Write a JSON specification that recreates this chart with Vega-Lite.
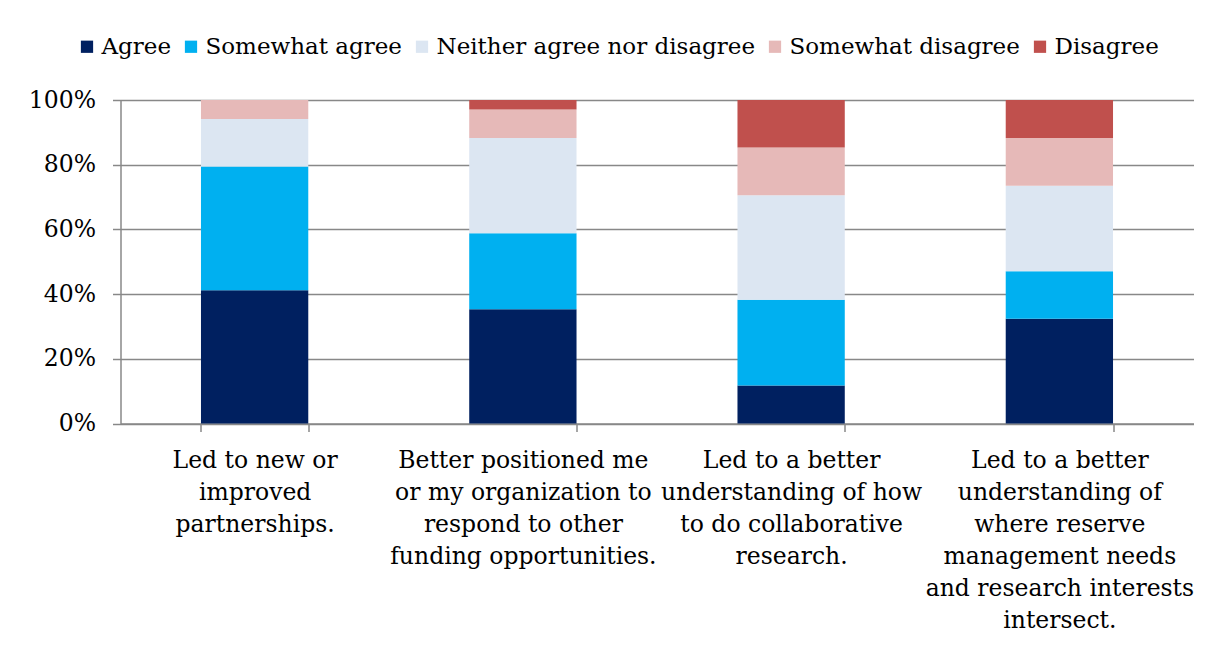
{
  "$schema": "https://vega.github.io/schema/vega-lite/v6.json",
  "autosize": {"type": "none"},
  "width": 1073,
  "height": 323.5,
  "padding": {"left": 120.5, "top": 100, "right": 21.5, "bottom": 227.5},
  "background": "white",
  "config": {
    "font": "DejaVu Serif",
    "view": {"stroke": null},
    "axis": {"labelFont": "DejaVu Serif", "labelFontSize": 23.5, "labelColor": "#000000"}
  },
  "data": {
    "values": [
      {"q": "Led to new or|improved|partnerships.", "r": "Agree", "n": 14},
      {"q": "Led to new or|improved|partnerships.", "r": "Somewhat agree", "n": 13},
      {"q": "Led to new or|improved|partnerships.", "r": "Neither agree nor disagree", "n": 5},
      {"q": "Led to new or|improved|partnerships.", "r": "Somewhat disagree", "n": 2},
      {"q": "Led to new or|improved|partnerships.", "r": "Disagree", "n": 0},
      {"q": "Better positioned me|or my organization to|respond to other|funding opportunities.", "r": "Agree", "n": 12},
      {"q": "Better positioned me|or my organization to|respond to other|funding opportunities.", "r": "Somewhat agree", "n": 8},
      {"q": "Better positioned me|or my organization to|respond to other|funding opportunities.", "r": "Neither agree nor disagree", "n": 10},
      {"q": "Better positioned me|or my organization to|respond to other|funding opportunities.", "r": "Somewhat disagree", "n": 3},
      {"q": "Better positioned me|or my organization to|respond to other|funding opportunities.", "r": "Disagree", "n": 1},
      {"q": "Led to a better|understanding of how|to do collaborative|research.", "r": "Agree", "n": 4},
      {"q": "Led to a better|understanding of how|to do collaborative|research.", "r": "Somewhat agree", "n": 9},
      {"q": "Led to a better|understanding of how|to do collaborative|research.", "r": "Neither agree nor disagree", "n": 11},
      {"q": "Led to a better|understanding of how|to do collaborative|research.", "r": "Somewhat disagree", "n": 5},
      {"q": "Led to a better|understanding of how|to do collaborative|research.", "r": "Disagree", "n": 5},
      {"q": "Led to a better|understanding of|where reserve|management needs|and research interests|intersect.", "r": "Agree", "n": 11},
      {"q": "Led to a better|understanding of|where reserve|management needs|and research interests|intersect.", "r": "Somewhat agree", "n": 5},
      {"q": "Led to a better|understanding of|where reserve|management needs|and research interests|intersect.", "r": "Neither agree nor disagree", "n": 9},
      {"q": "Led to a better|understanding of|where reserve|management needs|and research interests|intersect.", "r": "Somewhat disagree", "n": 5},
      {"q": "Led to a better|understanding of|where reserve|management needs|and research interests|intersect.", "r": "Disagree", "n": 4}
    ]
  },
  "transform": [
    {"calculate": "indexof(['Agree', 'Somewhat agree', 'Neither agree nor disagree', 'Somewhat disagree', 'Disagree'], datum.r)", "as": "k"}
  ],
  "mark": {"type": "bar"},
  "encoding": {
    "x": {
      "field": "q",
      "type": "nominal",
      "sort": null,
      "scale": {"paddingInner": 0.6, "paddingOuter": 0.3},
      "axis": {
        "title": null,
        "labelAngle": 0,
        "labelExpr": "split(datum.label, '|')",
        "labelLineHeight": 32,
        "labelPadding": 17,
        "labelBaseline": "top",
        "tickBand": "extent",
        "tickSize": 8,
        "tickColor": "#888888",
        "tickWidth": 1.5,
        "domainColor": "#888888",
        "domainWidth": 1.5,
        "labelLimit": 400
      }
    },
    "y": {
      "aggregate": "sum",
      "field": "n",
      "type": "quantitative",
      "stack": "normalize",
      "scale": {"domain": [0, 1], "nice": false},
      "axis": {
        "title": null,
        "format": "%",
        "values": [0, 0.2, 0.4, 0.6, 0.8, 1],
        "grid": true,
        "gridColor": "#888888",
        "gridWidth": 1.5,
        "tickSize": 8,
        "tickColor": "#888888",
        "tickWidth": 1.5,
        "domainColor": "#888888",
        "domainWidth": 1.5,
        "labelPadding": 17
      }
    },
    "color": {
      "field": "r",
      "type": "nominal",
      "sort": ["Agree", "Somewhat agree", "Neither agree nor disagree", "Somewhat disagree", "Disagree"],
      "scale": {
        "domain": ["Agree", "Somewhat agree", "Neither agree nor disagree", "Somewhat disagree", "Disagree"],
        "range": ["#002060", "#00B0F0", "#DCE6F2", "#E6B9B8", "#C0504D"]
      },
      "legend": {
        "title": null,
        "orient": "none",
        "direction": "horizontal",
        "legendX": -45,
        "legendY": -65,
        "padding": 0,
        "symbolType": "square",
        "symbolSize": 150,
        "symbolStrokeWidth": 0,
        "labelFont": "DejaVu Serif",
        "labelFontSize": 23,
        "labelColor": "#000000",
        "labelOffset": 3,
        "columnPadding": 8,
        "labelLimit": 500
      }
    },
    "order": {"field": "k", "type": "quantitative", "sort": "ascending"}
  }
}
